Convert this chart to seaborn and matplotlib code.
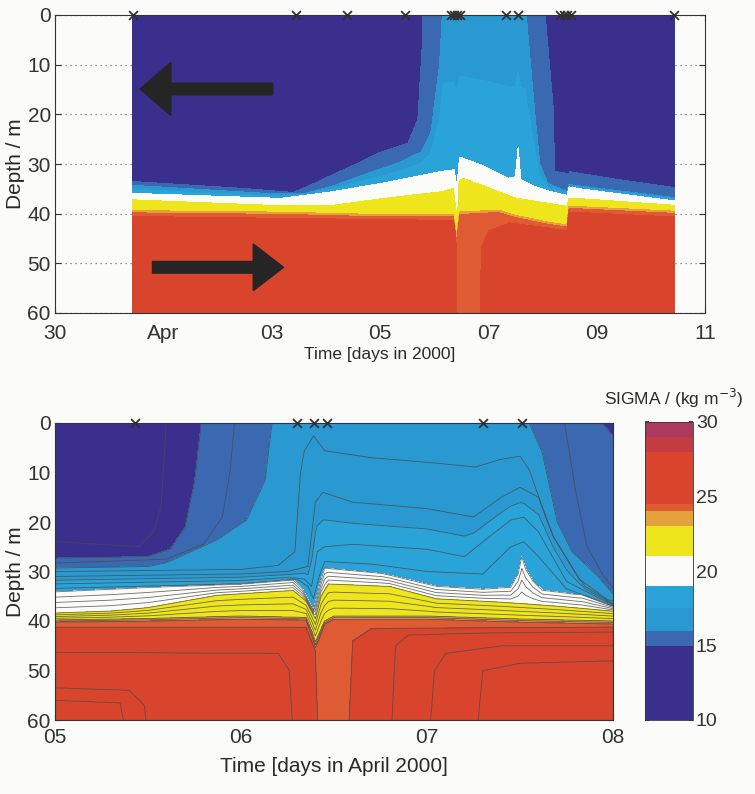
import numpy as np
import matplotlib
matplotlib.use("Agg")
import matplotlib.pyplot as plt
from matplotlib.patches import FancyArrow
import seaborn as sns

# ------------------------------------------------------------------
# Density (sigma) sections, Apr 2000.  Time axis in days of April
# (31 Mar 00:00 = 0, 1 Apr 00:00 = 1).  Each isopycnal is given by
# knots (time, depth); negative depth = outcropped above the surface.
# ------------------------------------------------------------------

# ---- upper panel: 31 Mar - 10 Apr ----
top_t14 = [0.43, 10.43]
top_z14 = [-12, -12]
top_t15 = [0.43, 2.5, 3.4, 3.8, 4.41, 5.02, 5.52, 5.70, 5.78, 5.81, 8.02, 8.05, 8.20, 8.22, 8.48, 8.50, 9.4, 10.43]
top_z15 = [33.6, 35.0, 35.8, 33.9, 30.8, 27.6, 25.8, 21.0, 6.0, -8, -8, 0, 19, 31.5, 32.0, 31.6, 33.2, 34.8]
top_t16 = [0.43, 3.0, 3.6, 4.09, 4.70, 5.33, 5.76, 5.94, 6.10, 6.17, 7.68, 7.70, 7.85, 7.95, 8.10, 8.45, 8.49, 10.43]
top_z16 = [34.3, 36.0, 36.0, 34.6, 32.2, 29.8, 27.6, 23.8, 10.0, -4, -4, 0, 19, 30, 34.0, 35.5, 34.2, 36.8]
top_t19 = [0.43, 3.17, 4.09, 5.02, 5.63, 6.13, 6.37, 6.40, 6.42, 6.45, 6.47, 6.87, 7.37, 7.50, 7.55, 7.60, 7.80, 8.10, 8.45, 8.49, 8.72, 10.43]
top_z19 = [35.9, 36.9, 35.6, 33.9, 32.6, 31.5, 31.2, 33.5, 34.5, 31.0, 28.6, 30.2, 32.9, 32.6, 26.6, 33.2, 34.3, 35.4, 36.3, 34.6, 35.0, 37.4]
top_t21 = [0.43, 3.17, 4.09, 5.02, 5.63, 6.13, 6.35, 6.40, 6.42, 6.44, 6.46, 6.53, 6.87, 7.48, 8.10, 8.45, 8.49, 8.72, 10.43]
top_z21 = [37.2, 38.4, 38.4, 37.0, 36.2, 35.6, 34.9, 39.0, 41.5, 38.5, 33.5, 32.9, 34.2, 36.8, 37.9, 38.5, 36.9, 37.0, 38.3]
top_t23 = [0.43, 3.17, 5.02, 6.35, 6.40, 6.42, 6.44, 6.47, 7.18, 7.48, 8.10, 8.45, 8.49, 10.43]
top_z23 = [39.4, 39.7, 40.2, 40.2, 43.5, 44.8, 42.0, 39.7, 39.3, 40.3, 41.7, 42.3, 38.5, 39.5]
top_t24 = [0.43, 3.17, 5.02, 6.35, 6.40, 6.42, 6.44, 6.47, 7.18, 7.48, 8.10, 8.45, 8.49, 10.43]
top_z24 = [39.8, 40.1, 40.6, 40.6, 44.5, 45.8, 43.0, 40.1, 39.7, 40.7, 42.1, 42.7, 38.9, 39.9]
top_t245 = [0.43, 6.38, 6.41, 6.43, 6.84, 6.87, 7.0, 7.4, 8.10, 8.45, 8.49, 10.43]
top_z245 = [40.5, 41.3, 47, 72, 72, 47, 43.5, 41.8, 42.8, 43.4, 39.6, 40.6]
top_t26 = [0.43, 10.43]
top_z26 = [80, 80]

# ---- lower panel: 5 - 8 Apr ----
bot_t14 = [5.0, 8.0]
bot_z14 = [-12, -12]
bot_t145 = [5.0, 5.45, 5.53, 5.57, 5.59, 5.61, 8.0]
bot_z145 = [24.0, 25.0, 22, 17, 5, -10, -10]
bot_t15 = [5.0, 5.5, 5.62, 5.70, 5.75, 5.78, 5.80, 7.90, 7.94, 8.0]
bot_z15 = [27.3, 27.0, 25.5, 21, 12, 2, -8, -8, 0, 2.5]
bot_t155 = [5.0, 5.6, 5.8, 5.90, 5.94, 5.96, 5.98, 7.70, 7.74, 7.80, 7.86, 7.95, 8.0]
bot_z155 = [28.3, 27.5, 24.5, 19, 10, 2, -6, -6, 0, 14, 25, 31, 33.3]
bot_t16 = [5.0, 5.5, 5.6, 5.87, 6.03, 6.13, 6.16, 6.18, 7.53, 7.55, 7.62, 7.66, 7.70, 7.78, 7.92, 8.0]
bot_z16 = [29.3, 29.0, 28.2, 23.6, 19.6, 11.5, 2, -4, -4, 0, 6, 13, 20, 26, 31, 34.5]
bot_t165 = [5.0, 6.0, 6.2, 6.29, 6.32, 6.34, 6.39, 6.45, 6.7, 7.05, 7.26, 7.39, 7.5, 7.55, 7.61, 7.68, 7.82, 7.97, 8.0]
bot_z165 = [30.0, 29.6, 28.8, 26, 10, 5.6, 2.6, 5.6, 7.0, 8.1, 8.9, 7.4, 6.7, 9.5, 16, 23, 31.6, 35.7, 36.0]
bot_t17 = [5.0, 6.0, 6.25, 6.36, 6.40, 6.44, 6.6, 7.0, 7.25, 7.4, 7.5, 7.6, 7.7, 7.85, 8.0]
bot_z17 = [31.0, 30.5, 30, 29, 16, 14, 16, 17.3, 19, 15, 13, 15, 24, 33, 36.5]
bot_t18 = [5.0, 6.0, 6.25, 6.34, 6.38, 6.41, 6.45, 6.6, 7.0, 7.2, 7.3, 7.45, 7.52, 7.6, 7.75, 8.0]
bot_z18 = [32.5, 31.8, 31.2, 31.5, 33, 26, 25, 24.5, 25.5, 27, 24, 19.6, 19, 22, 32, 36.8]
bot_t185 = [5.0, 6.0, 6.3, 6.36, 6.39, 6.42, 6.45, 6.7, 7.0, 7.3, 7.45, 7.52, 7.6, 7.75, 8.0]
bot_z185 = [33.4, 32.5, 31.5, 33, 35.5, 31, 28, 28.5, 30, 30.5, 25, 24, 27, 33.5, 37]
bot_t19 = [5.0, 5.5, 6.0, 6.28, 6.33, 6.37, 6.39, 6.42, 6.45, 6.50, 6.76, 7.05, 7.3, 7.45, 7.49, 7.51, 7.53, 7.57, 7.62, 7.8, 8.0]
bot_z19 = [34.1, 33.2, 32.5, 31.7, 33.5, 36.5, 37.8, 33.0, 29.3, 29.5, 30.4, 33.0, 33.6, 33.2, 30.5, 27.0, 29.5, 32.0, 33.8, 34.6, 35.0]
bot_t21 = [5.0, 5.3, 5.5, 5.87, 6.28, 6.35, 6.40, 6.43, 6.47, 6.8, 7.05, 7.4, 7.7, 8.0]
bot_z21 = [38.4, 38.0, 37.3, 34.8, 33.8, 36.0, 39.5, 35.0, 32.5, 33.0, 35.5, 36.2, 37.0, 38.0]
bot_t23 = [5.0, 5.5, 6.0, 6.35, 6.38, 6.40, 6.42, 6.45, 6.5, 7.0, 7.5, 8.0]
bot_z23 = [39.8, 39.5, 39.0, 39.3, 42, 44.2, 42.5, 40.0, 39.0, 39.0, 39.6, 40.0]
bot_t24 = [5.0, 5.5, 6.0, 6.35, 6.38, 6.40, 6.42, 6.45, 6.5, 7.0, 7.5, 8.0]
bot_z24 = [40.2, 40.0, 39.6, 39.8, 43, 45.3, 43.5, 40.6, 39.6, 39.6, 40.2, 40.6]
bot_t245 = [5.0, 6.35, 6.40, 6.42, 6.57, 6.60, 6.7, 8.0]
bot_z245 = [41.2, 41.2, 46, 70, 70, 44, 41.5, 41.2]
bot_t25 = [5.0, 6.2, 6.26, 6.29, 6.80, 6.83, 6.9, 7.3, 8.0]
bot_z25 = [46.3, 46.5, 50, 70, 70, 45, 42.8, 42.4, 42.2]
bot_t255 = [5.0, 5.40, 5.48, 5.52, 7.0, 7.04, 7.1, 7.4, 8.0]
bot_z255 = [53.5, 54.0, 57.0, 70, 70, 50, 46.5, 45.0, 45.0]
bot_t26 = [5.0, 5.35, 5.42, 7.25, 7.30, 7.5, 8.0]
bot_z26 = [56.0, 56.5, 70, 70, 50, 48.5, 48.0]
bot_t27 = [5.0, 8.0]
bot_z27 = [90, 90]

# CTD cast times (days of April)
top_casts = [0.44, 3.44, 4.39, 5.47, 6.31, 6.37, 6.42, 6.47, 7.33, 7.55, 8.32, 8.39, 8.46, 8.53, 10.43]
bot_casts = [5.43, 6.30, 6.39, 6.46, 7.30, 7.51]

# axis ticks
top_xticks = [-1, 1, 3, 5, 7, 9, 11]
top_xlabels = ["30", "Apr", "03", "05", "07", "09", "11"]
bot_xticks = [5, 6, 7, 8]
bot_xlabels = ["05", "06", "07", "08"]
depth_ticks = [0, 10, 20, 30, 40, 50, 60]
cbar_ticks = [10, 15, 20, 25, 30]

top_levels = [(14.0, top_t14, top_z14), (15.0, top_t15, top_z15), (16.0, top_t16, top_z16),
              (19.0, top_t19, top_z19), (21.0, top_t21, top_z21), (23.0, top_t23, top_z23),
              (24.0, top_t24, top_z24), (24.5, top_t245, top_z245), (26.0, top_t26, top_z26)]
bot_levels = [(14.0, bot_t14, bot_z14), (14.5, bot_t145, bot_z145), (15.0, bot_t15, bot_z15),
              (15.5, bot_t155, bot_z155), (16.0, bot_t16, bot_z16), (16.5, bot_t165, bot_z165),
              (17.0, bot_t17, bot_z17), (18.0, bot_t18, bot_z18), (18.5, bot_t185, bot_z185),
              (19.0, bot_t19, bot_z19), (21.0, bot_t21, bot_z21), (23.0, bot_t23, bot_z23),
              (24.0, bot_t24, bot_z24), (24.5, bot_t245, bot_z245), (25.0, bot_t25, bot_z25),
              (25.5, bot_t255, bot_z255), (26.0, bot_t26, bot_z26), (27.0, bot_t27, bot_z27)]


def sigma_field(levels, t_grid, z_grid):
    """Sigma on a (depth, time) grid from isopycnal depth knots."""
    lev = np.array([l[0] for l in levels])
    dep = np.array([np.interp(t_grid, l[1], l[2]) for l in levels])
    dep = np.maximum.accumulate(dep, axis=0) + np.arange(len(levels))[:, None] * 1e-3
    S = np.empty((z_grid.size, t_grid.size))
    for j in range(t_grid.size):
        S[:, j] = np.interp(z_grid, dep[:, j], lev)
    return S


# discrete palette, 0.5 kg m^-3 classes from 10 to 30
bounds = np.arange(10, 30.01, 0.5)


def class_colour(v):
    if v < 15: return "#3b2f8e"
    if v < 16: return "#3a69b1"
    if v < 17.5: return "#2b99d1"
    if v < 19: return "#2aa3d9"
    if v < 21: return "#fbfbf8"
    if v < 23: return "#efe51c"
    if v < 24: return "#e6a03c"
    if v < 24.5: return "#de5b34"
    if v < 28: return "#d8442c"
    if v < 29: return "#c53b44"
    return "#ad3a5e"


colours = [class_colour(v) for v in bounds[:-1]]

sns.set_theme(style="ticks")
plt.rcParams["font.family"] = ["Liberation Sans Narrow", "Liberation Sans", "DejaVu Sans"]
plt.rcParams.update({
    "figure.facecolor": "#fbfbf9",
    "axes.facecolor": "#fbfbf9",
    "axes.edgecolor": "#333333",
    "axes.linewidth": 0.8,
    "xtick.direction": "in",
    "ytick.direction": "in",
    "xtick.color": "#333333",
    "ytick.color": "#333333",
    "text.color": "#2a2a2a",
    "axes.labelcolor": "#2a2a2a",
})

FS = 15
fig = plt.figure(figsize=(7.55, 7.94), dpi=100)
W, H = 755.0, 794.0
ax_top = fig.add_axes([55 / W, 1 - 313 / H, 650 / W, 298 / H])
ax_bot = fig.add_axes([55 / W, 1 - 720 / H, 558 / W, 297 / H])
cax = fig.add_axes([645 / W, 1 - 720 / H, 48 / W, 298 / H])

z_grid = np.linspace(0, 60, 601)

# ---- upper section ----
t_top = np.linspace(top_t14[0], top_t14[-1], 2001)
S_top = sigma_field(top_levels, t_top, z_grid)
ax_top.set_axisbelow(True)
ax_top.yaxis.grid(True, linestyle=(0, (1, 3)), color="#777777", linewidth=0.9)
ax_top.contourf(t_top, z_grid, S_top, levels=bounds, colors=colours, zorder=1)
ax_top.set_xlim(-1, 11)
ax_top.set_ylim(60, 0)

# flow-direction arrows
ax_top.add_patch(FancyArrow(3.02, 14.9, -2.45, 0, width=2.35, head_width=10.7,
                            head_length=0.57, length_includes_head=True,
                            color="#252525", zorder=3))
ax_top.add_patch(FancyArrow(0.80, 50.8, 2.42, 0, width=2.35, head_width=9.4,
                            head_length=0.56, length_includes_head=True,
                            color="#252525", zorder=3))

sns.scatterplot(x=top_casts, y=np.zeros(len(top_casts)), marker="x", color="#303030",
                s=40, linewidth=1.3, ax=ax_top, clip_on=False, zorder=5, legend=False)

ax_top.set_xticks(top_xticks)
ax_top.set_xticklabels(top_xlabels)
ax_top.set_yticks(depth_ticks)
ax_top.set_xlabel("Time [days in 2000]", fontsize=12.5, labelpad=3)
ax_top.set_ylabel("Depth / m", fontsize=FS, labelpad=2)

# ---- lower section ----
t_bot = np.linspace(5.0, 8.0, 1501)
S_bot = sigma_field(bot_levels, t_bot, z_grid)
cs = ax_bot.contourf(t_bot, z_grid, S_bot, levels=bounds, colors=colours, zorder=1)
ax_bot.contour(t_bot, z_grid, S_bot, levels=np.arange(14.5, 27.0, 0.5),
               colors="#4a4a4a", linewidths=0.6, alpha=0.8, zorder=2)
ax_bot.set_xlim(5, 8)
ax_bot.set_ylim(60, 0)
sns.scatterplot(x=bot_casts, y=np.zeros(len(bot_casts)), marker="x", color="#303030",
                s=40, linewidth=1.3, ax=ax_bot, clip_on=False, zorder=5, legend=False)
ax_bot.set_xticks(bot_xticks)
ax_bot.set_xticklabels(bot_xlabels)
ax_bot.set_yticks(depth_ticks)
ax_bot.set_xlabel("Time [days in April 2000]", fontsize=FS, labelpad=7)
ax_bot.set_ylabel("Depth / m", fontsize=FS, labelpad=2)

for ax, xpad in ((ax_top, 8), (ax_bot, 6)):
    ax.tick_params(axis="both", labelsize=FS, length=4, width=0.8, pad=3,
                   top=True, right=True)
    ax.tick_params(axis="x", pad=xpad)
    for sp in ax.spines.values():
        sp.set_visible(True)

# ---- colour bar ----
cb = fig.colorbar(cs, cax=cax, ticks=cbar_ticks)
cb.outline.set_linewidth(0.6)
cax.tick_params(labelsize=FS - 1, direction="in", length=3, left=True, right=True, pad=2)
fig.text(674 / W, 1 - 398 / H, "SIGMA / (kg m$^{-3}$)", ha="center", va="center",
         fontsize=12.5)

fig.savefig("out.png", dpi=100, facecolor=fig.get_facecolor())
